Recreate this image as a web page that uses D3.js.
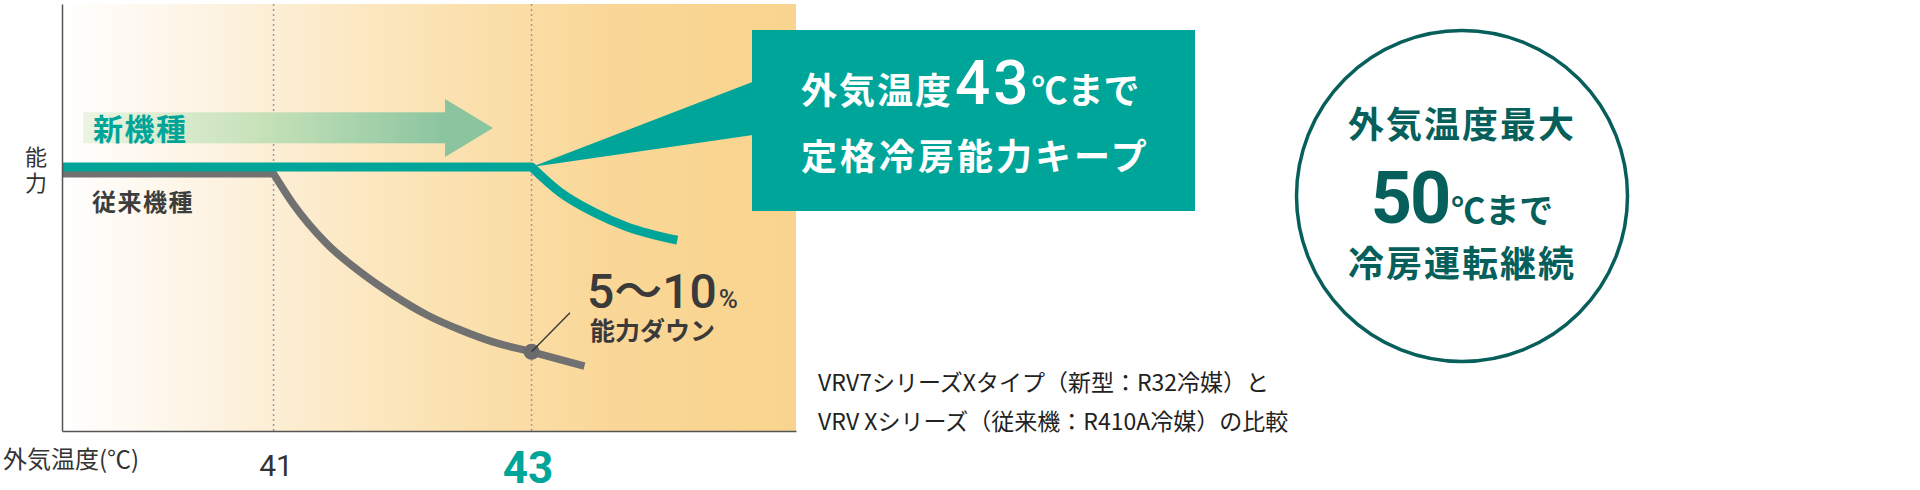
<!DOCTYPE html>
<html>
<head>
<meta charset="utf-8">
<script src="https://cdn.jsdelivr.net/npm/d3@7"></script>
<style>
  body { margin: 0; background: #fff; }
  svg { display: block; }
</style>
</head>
<body>
<svg id="chart" width="1920" height="490"></svg>
<script>
// outside temperature ticks
const tempTicks = [41, 43]

// new model (VRV7, R32): keeps rated capacity up to 43°C
const newTemp = [39.36, 43.0, 43.22, 43.48, 43.74, 44.13]
const newCap = [100, 100, 98.98, 98.17, 97.57, 97.03]
const newKnee = 43.0

// old model (VRV X, R410A): capacity drops after 41°C
const oldTemp = [39.36, 41.0, 41.15, 41.41, 41.67, 41.93, 42.19, 42.45, 42.7, 43.0, 43.41]
const oldCap = [99.72, 99.72, 98.51, 96.9, 95.75, 94.8, 94.0, 93.39, 92.91, 92.51, 91.93]
const oldKnee = 41.0

const dropTemp = 43
const dropLabel = "5〜10"

const JP = '"Noto Sans CJK JP", "Noto Sans", sans-serif'
const NUM = 'Roboto, "Noto Sans CJK JP", sans-serif'
const TEAL = "#00a59a"
const DARK_TEAL = "#065f5b"
const GRAY = "#717171"

const svg = d3.select("#chart")
const defs = svg.append("defs")

const x = d3.scaleLinear().domain([39.36, 45.05]).range([62, 796])
const y = d3.scaleLinear().domain([89.3, 106.6]).range([431, 4])

// background: white -> warm orange
const bgGrad = defs.append("linearGradient")
  .attr("id", "bgGrad")
  .attr("gradientUnits", "userSpaceOnUse")
  .attr("x1", x.range()[0]).attr("x2", x.range()[1])
  .attr("y1", 0).attr("y2", 0)
bgGrad.selectAll("stop")
  .data([[0, "#ffffff"], [0.2, "#fdf3e2"], [0.5, "#fbe3b4"], [0.75, "#fad797"], [1, "#f9d48e"]])
  .join("stop")
  .attr("offset", (d) => d[0])
  .attr("stop-color", (d) => d[1])

const arrowGrad = defs.append("linearGradient")
  .attr("id", "arrowGrad")
  .attr("gradientUnits", "userSpaceOnUse")
  .attr("x1", 83).attr("x2", 445)
  .attr("y1", 0).attr("y2", 0)
arrowGrad.selectAll("stop")
  .data([[0, "#ecf4e3"], [0.5, "#c6e1b8"], [1, "#8ac5a0"]])
  .join("stop")
  .attr("offset", (d) => d[0])
  .attr("stop-color", (d) => d[1])

svg.append("rect")
  .attr("x", x.range()[0])
  .attr("y", y.range()[1])
  .attr("width", x.range()[1] - x.range()[0])
  .attr("height", y.range()[0] - y.range()[1])
  .attr("fill", "url(#bgGrad)")

// dotted guides at the tick temperatures
svg.append("g")
  .selectAll("line")
  .data(tempTicks)
  .join("line")
  .attr("x1", (d) => x(d)).attr("x2", (d) => x(d))
  .attr("y1", y.range()[1]).attr("y2", y.range()[0])
  .attr("stroke", "#9b9b9b")
  .attr("stroke-width", 1.5)
  .attr("stroke-dasharray", "2,3")

// "new model" arrow
svg.append("rect")
  .attr("x", 83).attr("y", 112.3)
  .attr("width", 362).attr("height", 31)
  .attr("fill", "url(#arrowGrad)")
svg.append("polygon")
  .attr("points", "445,99 493,128 445,157")
  .attr("fill", "#8ac5a0")

svg.append("text")
  .attr("x", 93).attr("y", 139.5)
  .attr("font-family", JP).attr("font-size", 30).attr("font-weight", 700)
  .attr("letter-spacing", 1.5)
  .attr("fill", TEAL)
  .text("新機種")

svg.append("text")
  .attr("x", 92).attr("y", 210.5)
  .attr("font-family", JP).attr("font-size", 24).attr("font-weight", 700)
  .attr("letter-spacing", 1.5)
  .attr("fill", "#3d3d3d")
  .text("従来機種")

// capacity lines: straight up to the knee, smooth drop after it
const flatLine = d3.line().x((d) => x(d[0])).y((d) => y(d[1]))
const dropLine = d3.line().x((d) => x(d[0])).y((d) => y(d[1])).curve(d3.curveMonotoneX)
function capacityPath(temps, caps, knee) {
  const pts = d3.zip(temps, caps)
  const k = temps.indexOf(knee)
  return flatLine(pts.slice(0, k + 1)) + dropLine(pts.slice(k)).replace(/^M/, "L")
}

svg.append("path")
  .attr("d", capacityPath(oldTemp, oldCap, oldKnee))
  .attr("fill", "none")
  .attr("stroke", GRAY)
  .attr("stroke-width", 7.5)
  .attr("stroke-linejoin", "round")

svg.append("path")
  .attr("d", capacityPath(newTemp, newCap, newKnee))
  .attr("fill", "none")
  .attr("stroke", TEAL)
  .attr("stroke-width", 9)
  .attr("stroke-linejoin", "round")

// callout: wedge from the 43°C point + box
const tipX = x(dropTemp)
const tipY = y(newCap[newTemp.indexOf(dropTemp)])
svg.append("polygon")
  .attr("points", `${tipX},${tipY} 753,81.7 753,135`)
  .attr("fill", TEAL)
svg.append("rect")
  .attr("x", 752).attr("y", 30)
  .attr("width", 443).attr("height", 181)
  .attr("fill", TEAL)

const box1 = svg.append("text")
  .attr("x", 801).attr("y", 104)
  .attr("font-family", JP).attr("font-weight", 700)
  .attr("fill", "#fff")
box1.append("tspan").attr("font-size", 36).attr("letter-spacing", 2).text("外気温度")
box1.append("tspan").attr("dx", 2).attr("font-family", NUM).attr("font-weight", 500)
  .attr("font-size", 62).attr("letter-spacing", 3).text("43")
box1.append("tspan").attr("font-size", 36).text("℃まで")

svg.append("text")
  .attr("x", 801).attr("y", 170)
  .attr("font-family", JP).attr("font-size", 36).attr("font-weight", 700)
  .attr("letter-spacing", 3)
  .attr("fill", "#fff")
  .text("定格冷房能力キープ")

// drop marker on the old-model curve + leader
const oldAt43 = oldCap[oldTemp.indexOf(dropTemp)]
svg.append("line")
  .attr("x1", x(dropTemp)).attr("y1", y(oldAt43))
  .attr("x2", 570).attr("y2", 312.7)
  .attr("stroke", "#333")
  .attr("stroke-width", 1.3)
svg.append("circle")
  .attr("cx", x(dropTemp)).attr("cy", y(oldAt43))
  .attr("r", 8)
  .attr("fill", "#6b6b6b")
svg.append("line")
  .attr("x1", x(dropTemp)).attr("y1", y(oldAt43))
  .attr("x2", x(dropTemp) + 6).attr("y2", y(oldAt43) - 6)
  .attr("stroke", "#333")
  .attr("stroke-width", 1.3)

const pct = svg.append("text")
  .attr("x", 587).attr("y", 308)
  .attr("font-family", NUM).attr("font-weight", 500)
  .attr("fill", "#3a3a3a")
pct.append("tspan").attr("font-size", 48).text(dropLabel)
pct.append("tspan").attr("font-size", 26).attr("dx", 2).text("%")

svg.append("text")
  .attr("x", 590).attr("y", 340)
  .attr("font-family", JP).attr("font-size", 25).attr("font-weight", 700)
  .attr("fill", "#3a3a3a")
  .text("能力ダウン")

// axes
const xAxis = svg.append("g")
  .attr("transform", `translate(0,${y.range()[0]})`)
  .call(d3.axisBottom(x).tickValues(tempTicks).tickFormat(d3.format("d")).tickSize(0).tickSizeOuter(0))
xAxis.select(".domain").attr("stroke", "#555").attr("stroke-width", 1.5)
xAxis.selectAll(".tick text")
  .attr("dy", 0)
  .attr("y", (d) => (d === dropTemp ? 52 : 45))
  .attr("dx", (d) => (d === dropTemp ? -4 : 2))
  .attr("font-family", NUM)
  .attr("font-size", (d) => (d === dropTemp ? 44 : 30))
  .attr("font-weight", (d) => (d === dropTemp ? 700 : 400))
  .attr("fill", (d) => (d === dropTemp ? TEAL : "#333"))

const yAxis = svg.append("g")
  .attr("transform", `translate(${x.range()[0]},0)`)
  .call(d3.axisLeft(y).tickValues([]).tickSizeOuter(0))
yAxis.select(".domain").attr("stroke", "#555").attr("stroke-width", 1.5)

// axis titles
svg.append("g")
  .selectAll("text")
  .data(["能", "力"])
  .join("text")
  .attr("x", 36)
  .attr("y", (d, i) => 165 + i * 26)
  .attr("text-anchor", "middle")
  .attr("font-family", JP).attr("font-size", 22)
  .attr("fill", "#333")
  .text((d) => d)

svg.append("text")
  .attr("x", 3).attr("y", 468)
  .attr("font-family", JP).attr("font-size", 24)
  .attr("fill", "#333")
  .text("外気温度(℃)")

// note
svg.append("g")
  .selectAll("text")
  .data(["VRV7シリーズXタイプ（新型：R32冷媒）と", "VRV Xシリーズ（従来機：R410A冷媒）の比較"])
  .join("text")
  .attr("x", 818)
  .attr("y", (d, i) => 391 + i * 38.5)
  .attr("font-family", JP).attr("font-size", 23)
  .attr("fill", "#222")
  .text((d) => d)

// badge circle
const cx = 1462, cy = 196
svg.append("circle")
  .attr("cx", cx).attr("cy", cy).attr("r", 165.5)
  .attr("fill", "none")
  .attr("stroke", DARK_TEAL)
  .attr("stroke-width", 3.5)

const badge = svg.append("g")
  .attr("font-family", JP).attr("font-weight", 700)
  .attr("fill", DARK_TEAL)
  .attr("text-anchor", "middle")
badge.append("text").attr("x", cx).attr("y", 138)
  .attr("font-size", 36).attr("letter-spacing", 2).text("外気温度最大")
const mid = badge.append("text").attr("x", cx).attr("y", 223)
mid.append("tspan").attr("font-family", NUM).attr("font-size", 72).attr("letter-spacing", -2).text("50")
mid.append("tspan").attr("font-size", 34).attr("dx", 2).text("℃まで")
badge.append("text").attr("x", cx).attr("y", 277)
  .attr("font-size", 36).attr("letter-spacing", 2).text("冷房運転継続")
</script>
</body>
</html>
